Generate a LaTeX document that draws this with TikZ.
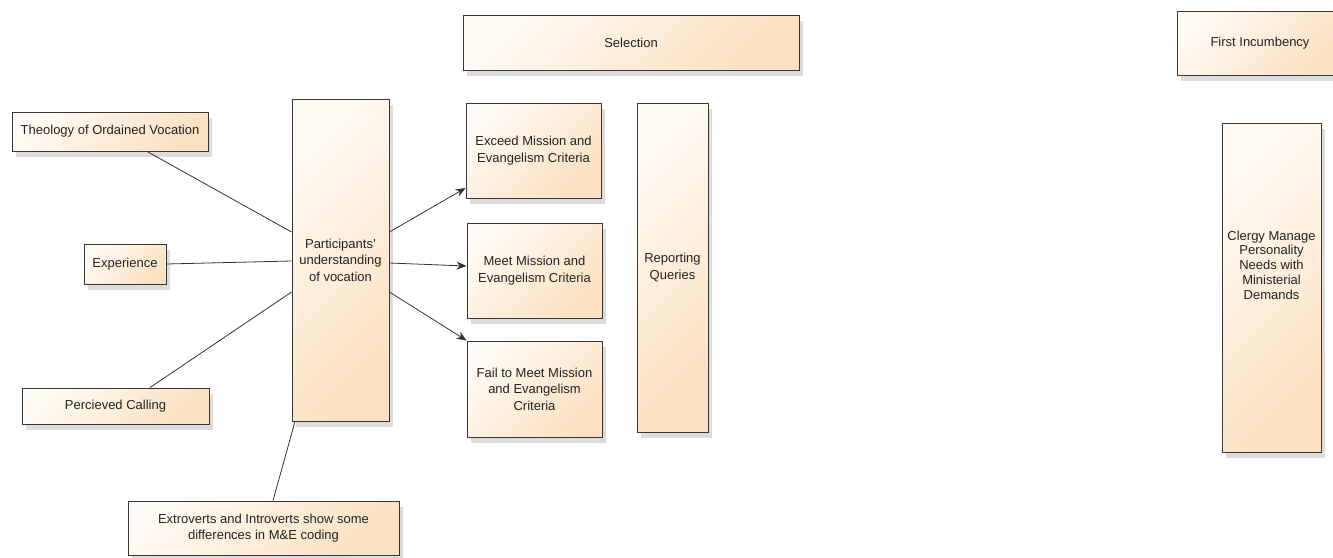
\documentclass[tikz,border=0pt]{standalone}
\usepackage{fontspec}
\setmainfont{Liberation Sans}
\usetikzlibrary{arrows.meta,shadows}

\definecolor{stagelight}{RGB}{255,250,244}
\definecolor{stagedark}{RGB}{251,225,193}
\definecolor{stageline}{RGB}{55,55,55}
\definecolor{stagetext}{RGB}{35,35,35}

\tikzset{
  stage/.style={rectangle,draw=stageline,line width=0.9pt,
    top color=stagelight,bottom color=stagedark,shading angle=45,
    drop shadow={shadow xshift=4pt,shadow yshift=-6pt,fill=black!45,opacity=0.3},
    align=center,inner sep=2pt,text=stagetext,
    font=\fontsize{13}{16.5}\selectfont},
  link/.style={draw=black!80,line width=0.8pt},
  flow/.style={link,-{Stealth[length=10pt,width=8pt]}}
}

\begin{document}
\begin{tikzpicture}[x=1pt,y=-1pt]
  \useasboundingbox (0,0) rectangle (1333,557);
  \clip (0,0) rectangle (1333,557);
  % Stage headings
  \node at(631,42.5)[stage,minimum width=336,minimum height=55](selection){Selection};
  \node at(1260,43)[stage,minimum width=166,minimum height=64](incumbency){First Incumbency};
  % Inputs to understanding
  \node at(110,131.5)[stage,minimum width=196,minimum height=39](theology){Theology of Ordained Vocation};
  \node at(125,264)[stage,minimum width=82,minimum height=40](experience){Experience};
  \node at(115.5,406)[stage,minimum width=187,minimum height=36](calling){Percieved Calling};
  \node at(263.5,528)[stage,minimum width=271,minimum height=54](extroverts){Extroverts and Introverts show some\\differences in M\&E coding};
  % Understanding of vocation
  \node at(340.5,260)[stage,minimum width=97,minimum height=322](understanding){Participants'\\understanding\\of vocation};
  % Outcomes
  \node at(533.5,150.5)[stage,minimum width=135,minimum height=95](exceed){Exceed Mission and\\Evangelism Criteria};
  \node at(534.5,270.5)[stage,minimum width=135,minimum height=95](meet){Meet Mission and\\Evangelism Criteria};
  \node at(534.5,389)[stage,minimum width=135,minimum height=96](fail){Fail to Meet Mission\\and Evangelism\\Criteria};
  \node at(672.5,267.5)[stage,minimum width=71,minimum height=329](reporting){Reporting\\Queries};
  % First incumbency
  \node at(1271.5,287.5)[stage,minimum width=99,minimum height=329](clergy){};
  \node at(1271.5,265)[align=center,text=stagetext,font=\fontsize{13}{14.8}\selectfont](clergytext){Clergy Manage\\Personality\\Needs with\\Ministerial\\Demands};
  % Links into understanding
  \draw [link]([xshift=37pt]theology.south) -- ([yshift=28pt]understanding.west);
  \draw [link](experience.east) -- ([yshift=-1pt]understanding.west);
  \draw [link]([xshift=34.5pt]calling.north) -- ([yshift=-32pt]understanding.west);
  \draw [link]([xshift=9.5pt]extroverts.north) -- ([xshift=-45.5pt]understanding.south);
  % Arrows to outcomes
  \draw [flow]([yshift=28pt]understanding.east) -- ([yshift=-37.5pt]exceed.west);
  \draw [flow]([yshift=-3pt]understanding.east) -- ([yshift=4.5pt]meet.west);
  \draw [flow]([yshift=-32pt]understanding.east) -- (fail.north west);
\end{tikzpicture}
\end{document}
